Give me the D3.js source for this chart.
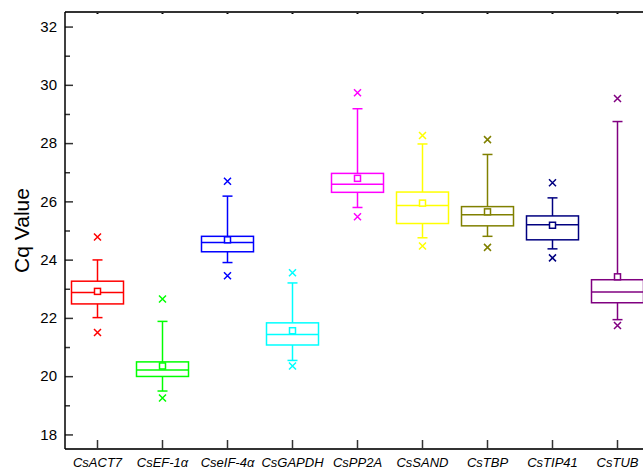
<!DOCTYPE html>
<html><head><meta charset="utf-8">
<script src="https://cdn.jsdelivr.net/npm/d3@7/dist/d3.min.js"></script>
<style>body{margin:0;background:#fff}svg{display:block}</style>
</head><body><svg id="c" width="643" height="469"></svg>
<script>
const categories = ["CsACT7","CsEF-1α","CseIF-4α","CsGAPDH","CsPP2A","CsSAND","CsTBP","CsTIP41","CsTUB"];
const colors = ["#FF0000","#00FF00","#0000FF","#00FFFF","#FF00FF","#FFFF00","#808000","#000080","#800080"];
const minVals     = [21.50, 19.25, 23.45, 20.35, 25.47, 24.47, 24.42, 24.06, 21.74];
const whiskerLow  = [22.01, 19.49, 23.90, 20.54, 25.79, 24.75, 24.80, 24.37, 21.94];
const q1          = [22.48, 19.99, 24.27, 21.07, 26.31, 25.24, 25.16, 24.68, 22.52];
const medians     = [22.87, 20.21, 24.59, 21.43, 26.59, 25.86, 25.54, 25.20, 22.89];
const means       = [22.91, 20.35, 24.68, 21.56, 26.79, 25.94, 25.64, 25.18, 23.41];
const q3          = [23.26, 20.49, 24.80, 21.83, 26.96, 26.32, 25.82, 25.50, 23.31];
const whiskerHigh = [23.99, 21.88, 26.18, 23.20, 29.18, 27.97, 27.61, 26.12, 28.74];
const maxVals     = [24.78, 22.65, 26.69, 23.55, 29.73, 28.26, 28.12, 26.64, 29.53];
const yTicks = [18,20,22,24,26,28,30,32];

const svg = d3.select("#c");
const mLeft = 65, mTop = 12, mBottom = 449, mRight = 650;
const x = d3.scaleBand().domain(categories).range([mLeft, mRight]).paddingInner(0).paddingOuter(0);
const y = d3.scaleLinear().domain([17.5, 32.5]).range([mBottom, mTop]);
const font = "Liberation Sans, Arial, sans-serif";

const data = categories.map((c,i)=>({c, col:colors[i], mn:minVals[i], wl:whiskerLow[i], q1:q1[i], md:medians[i], mean:means[i], q3:q3[i], wh:whiskerHigh[i], mx:maxVals[i]}));
const bw = 52, cap = 10, sq = 6, xs = 3.5;
const g = svg.append("g");
data.forEach(d=>{
  const cx = x(d.c) + x.bandwidth()/2;
  const gg = g.append("g").attr("stroke", d.col).attr("fill","none").attr("stroke-width",1.5);
  gg.append("line").attr("x1",cx).attr("x2",cx).attr("y1",y(d.q3)).attr("y2",y(d.wh));
  gg.append("line").attr("x1",cx).attr("x2",cx).attr("y1",y(d.q1)).attr("y2",y(d.wl));
  gg.append("line").attr("x1",cx-cap/2).attr("x2",cx+cap/2).attr("y1",y(d.wh)).attr("y2",y(d.wh));
  gg.append("line").attr("x1",cx-cap/2).attr("x2",cx+cap/2).attr("y1",y(d.wl)).attr("y2",y(d.wl));
  gg.append("rect").attr("x",cx-bw/2).attr("y",y(d.q3)).attr("width",bw).attr("height",y(d.q1)-y(d.q3));
  gg.append("line").attr("x1",cx-bw/2).attr("x2",cx+bw/2).attr("y1",y(d.md)).attr("y2",y(d.md));
  gg.append("rect").attr("x",cx-sq/2).attr("y",y(d.mean)-sq/2).attr("width",sq).attr("height",sq).attr("fill","#fff");
  [d.mn,d.mx].forEach(v=>{
    const yy=y(v);
    gg.append("path").attr("d",`M${cx-xs},${yy-xs}L${cx+xs},${yy+xs}M${cx-xs},${yy+xs}L${cx+xs},${yy-xs}`);
  });
});

const axisColor = "#333";
const yAxis = svg.append("g").attr("transform",`translate(${mLeft},0)`)
  .call(d3.axisRight(y).tickValues(yTicks).tickSize(8).tickFormat(""));
yAxis.select(".domain").remove();
yAxis.selectAll("line").attr("stroke",axisColor).attr("stroke-width",1.5);
const yMinor = svg.append("g").attr("transform",`translate(${mLeft},0)`)
  .call(d3.axisRight(y).tickValues(yTicks.map(v=>v+1).filter(v=>v<32.5)).tickSize(5).tickFormat(""));
yMinor.select(".domain").remove();
yMinor.selectAll("line").attr("stroke",axisColor).attr("stroke-width",1.5);
svg.append("g").selectAll("text").data(yTicks).join("text")
  .attr("x",mLeft-8).attr("y",d=>y(d)).attr("dy","0.35em").attr("text-anchor","end")
  .attr("font-family",font).attr("font-size",15).attr("fill","#000").text(d=>d);

const xAxis = svg.append("g").attr("transform",`translate(0,${mBottom})`)
  .call(d3.axisTop(x).tickSize(9).tickFormat(""));
xAxis.select(".domain").remove();
xAxis.selectAll("line").attr("stroke",axisColor).attr("stroke-width",1.5);
const xTop = svg.append("g").attr("transform",`translate(0,${mTop})`)
  .call(d3.axisBottom(x).tickSize(2).tickFormat(""));
xTop.select(".domain").remove();
xTop.selectAll("line").attr("stroke","#000").attr("stroke-width",2);

svg.append("g").selectAll("text").data(categories).join("text")
  .attr("x",d=>x(d)+x.bandwidth()/2).attr("y",467).attr("text-anchor","middle")
  .attr("font-family",font).attr("font-style","italic").attr("font-size",13).attr("fill","#000").text(d=>d);

svg.append("line").attr("x1",mLeft).attr("x2",mRight).attr("y1",mTop).attr("y2",mTop).attr("stroke",axisColor).attr("stroke-width",2);
svg.append("line").attr("x1",mLeft).attr("x2",mRight).attr("y1",mBottom).attr("y2",mBottom).attr("stroke",axisColor).attr("stroke-width",2);
svg.append("line").attr("x1",mLeft).attr("x2",mLeft).attr("y1",mTop).attr("y2",mBottom).attr("stroke","#000").attr("stroke-width",1.5);

svg.append("text").attr("transform",`translate(29,${(mTop+mBottom)/2}) rotate(-90)`)
  .attr("text-anchor","middle").attr("font-family",font).attr("font-size",21).attr("fill","#000").text("Cq Value");
</script></body></html>
